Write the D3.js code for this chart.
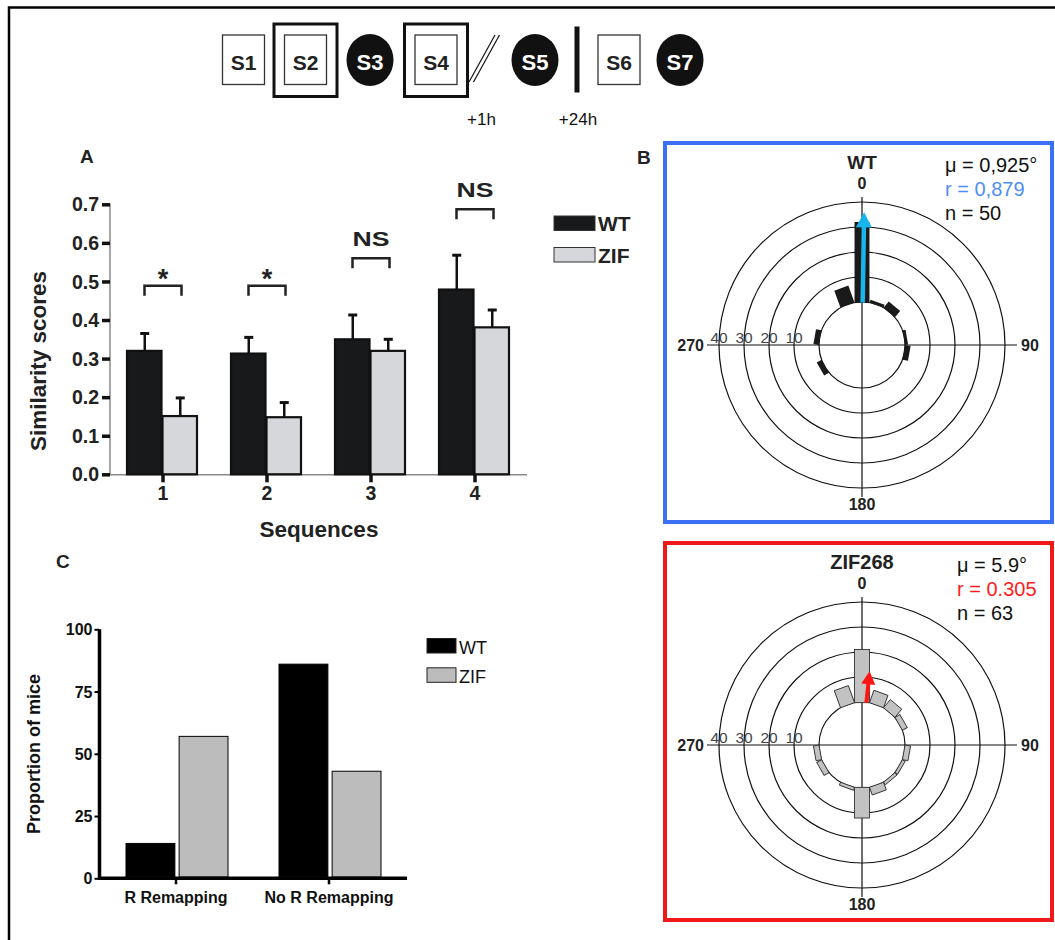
<!DOCTYPE html>
<html><head><meta charset="utf-8">
<script src="https://cdn.jsdelivr.net/npm/d3@7"></script>
<style>
body{margin:0;background:#fff}
svg{display:block}
text{font-family:"Liberation Sans",Arial,Helvetica,sans-serif}
</style>
</head><body>
<svg id="chart" width="1055" height="940"></svg>
<script>
// ---------------- data ----------------
const sessions = ["S1","S2","S3","S4","S5","S6","S7"];
const sessionKind = ["box","double","circle","double","circle","box","circle"];
const delayLabels = ["+1h","+24h"];

const seqCats = ["1","2","3","4"];
const simSeries = ["WT","ZIF"];
const simWT = [0.320, 0.313, 0.350, 0.479];
const simWTerr = [0.045, 0.042, 0.063, 0.089];
const simZIF = [0.151, 0.148, 0.320, 0.381];
const simZIFerr = [0.047, 0.038, 0.030, 0.045];
const sigLabels = ["*","*","NS","NS"];
const sigLevels = [0.489, 0.489, 0.560, 0.687];
const simTicks = [0,0.1,0.2,0.3,0.4,0.5,0.6,0.7];

const remapCats = ["R Remapping","No R Remapping"];
const propWT = [14, 86];
const propZIF = [57, 43];
const propTicks = [0,25,50,75,100];

const roseBins = [0,20,40,60,80,100,120,140,160,180,200,220,240,260,280,300,320,340];
const roseWT  = [32,1,3,0,1,2,0,0,0,0,0,0,2,0,2,0,0,7];
const roseZIF = [21,5,4,2,0,2,1,1,3,12,1,0,2,2,0,0,0,7];
const roseRings = [10,20,30,40];
const roseTitles = ["WT","ZIF268"];
const roseMu = [0.925, 5.9];
const roseR = [0.879, 0.305];
const roseN = [50, 63];
const roseMuLabels = ["0,925°","5.9°"];
const roseRLabels = ["0,879","0.305"];

// ---------------- drawing ----------------
const svg = d3.select("#chart");
const F = "Liberation Sans, Arial, sans-serif";

// outer frame (partially visible)
svg.append("path").attr("d","M9,940 L9,7.5 L1060,7.5").attr("fill","none").attr("stroke","#000").attr("stroke-width",2.5);

// ---- schematic ----
const sch = svg.append("g");
const sessionCx = [243.5, 305.5, 370, 436, 535, 619, 680];
const schCy = 60;
sessions.forEach((s,i)=>{
  const cx = sessionCx[i], k = sessionKind[i];
  if (k === "circle") {
    sch.append("ellipse").attr("cx",cx).attr("cy",schCy).attr("rx",23.5).attr("ry",26).attr("fill","#111");
    sch.append("text").attr("x",cx).attr("y",69.5).attr("text-anchor","middle").attr("fill","#fff")
      .attr("font-weight","bold").attr("font-size",22).text(s);
  } else {
    if (k === "double") {
      sch.append("rect").attr("x",cx-31.5).attr("y",24).attr("width",63).attr("height",72.5)
        .attr("fill","none").attr("stroke","#111").attr("stroke-width",3);
    }
    sch.append("rect").attr("x",cx-21).attr("y",35).attr("width",42).attr("height",49.5)
      .attr("fill","none").attr("stroke","#333").attr("stroke-width",1.3);
    sch.append("text").attr("x",cx).attr("y",69.5).attr("text-anchor","middle").attr("fill","#222")
      .attr("font-weight","bold").attr("font-size",21).text(s);
  }
});
// double slash
[[469,82,495,35],[473.5,82,499.5,35]].forEach(l=>{
  sch.append("line").attr("x1",l[0]).attr("y1",l[1]).attr("x2",l[2]).attr("y2",l[3]).attr("stroke","#111").attr("stroke-width",1.2);
});
// thick bar
sch.append("rect").attr("x",574.5).attr("y",26.5).attr("width",5).attr("height",66).attr("fill","#111");
sch.append("text").attr("x",481.5).attr("y",125).attr("text-anchor","middle").attr("font-size",17).attr("fill","#111").text(delayLabels[0]);
sch.append("text").attr("x",578).attr("y",125).attr("text-anchor","middle").attr("font-size",17).attr("fill","#111").text(delayLabels[1]);

// ---- Panel A ----
const gA = svg.append("g");
gA.append("text").attr("x",80).attr("y",163).attr("font-weight","bold").attr("font-size",19).attr("fill","#222").text("A");
const yA = d3.scaleLinear().domain([0,0.7]).range([474.3,204.3]);
const xA = d3.scaleBand().domain(seqCats).range([111,527]);
const xAin = d3.scaleBand().domain(simSeries).range([0,71]);
const fillA = {WT:"#18191b", ZIF:"#d5d7da"};

// axis lines
gA.append("line").attr("x1",110).attr("x2",110).attr("y1",yA(0.7)-1).attr("y2",yA(0)).attr("stroke","#8a8a8a").attr("stroke-width",1.5);
gA.append("line").attr("x1",110).attr("x2",527).attr("y1",yA(0)+0.5).attr("y2",yA(0)+0.5).attr("stroke","#8a8a8a").attr("stroke-width",1.5);
// y ticks
const yAxisA = d3.axisLeft(yA).tickValues(simTicks).tickFormat(d3.format(".1f")).tickSize(8).tickPadding(3);
const ya = gA.append("g").attr("transform","translate(110,0)").call(yAxisA);
ya.select(".domain").remove();
ya.selectAll(".tick line").attr("stroke","#111").attr("stroke-width",3.5);
ya.selectAll(".tick text").attr("font-family",F).attr("font-weight","bold").attr("font-size",19.5).attr("fill","#222").attr("dy","0.34em");
// x ticks
const xAxisA = d3.axisBottom(xA).tickSize(8).tickPadding(4);
const xa = gA.append("g").attr("transform",`translate(0,${yA(0)})`).call(xAxisA);
xa.select(".domain").remove();
xa.selectAll(".tick line").attr("stroke","#111").attr("stroke-width",3.5);
xa.selectAll(".tick text").attr("font-family",F).attr("font-weight","bold").attr("font-size",19.5).attr("fill","#222");

const barsA = [];
seqCats.forEach((c,i)=>{
  barsA.push({cat:c, s:"WT", v:simWT[i], e:simWTerr[i]});
  barsA.push({cat:c, s:"ZIF", v:simZIF[i], e:simZIFerr[i]});
});
const bx = d => xA(d.cat) + xA.bandwidth()/2 - 36 + xAin(d.s);
// error bars
gA.selectAll("line.err").data(barsA).join("line")
  .attr("x1",d=>bx(d)+xAin.bandwidth()/2).attr("x2",d=>bx(d)+xAin.bandwidth()/2)
  .attr("y1",d=>yA(d.v)).attr("y2",d=>yA(d.v+d.e)).attr("stroke","#111").attr("stroke-width",2.5);
gA.selectAll("line.cap").data(barsA).join("line")
  .attr("x1",d=>bx(d)+xAin.bandwidth()/2-4.5).attr("x2",d=>bx(d)+xAin.bandwidth()/2+4.5)
  .attr("y1",d=>yA(d.v+d.e)).attr("y2",d=>yA(d.v+d.e)).attr("stroke","#111").attr("stroke-width",3);
gA.selectAll("rect.bar").data(barsA).join("rect")
  .attr("x",bx).attr("width",xAin.bandwidth()-1)
  .attr("y",d=>yA(d.v)).attr("height",d=>yA(0)-yA(d.v))
  .attr("fill",d=>fillA[d.s]).attr("stroke","#111").attr("stroke-width",2.2);
// significance brackets
seqCats.forEach((c,i)=>{
  const cx = xA(c)+xA.bandwidth()/2;
  const y = yA(sigLevels[i]);
  gA.append("path").attr("d",`M${cx-18.5},${y+10} V${y} H${cx+18.5} V${y+10}`)
    .attr("fill","none").attr("stroke","#222").attr("stroke-width",2.5);
  if (sigLabels[i] === "*") {
    gA.append("text").attr("x",cx).attr("y",y+2).attr("text-anchor","middle").attr("font-weight","bold").attr("font-size",27).attr("fill","#222").text("*");
  } else {
    gA.append("text").attr("x",cx).attr("y",y-12).attr("text-anchor","middle").attr("font-weight","bold").attr("font-size",21)
      .attr("textLength",37).attr("lengthAdjust","spacingAndGlyphs").attr("fill","#222").text(sigLabels[i]);
  }
});
// titles
gA.append("text").attr("transform","translate(46,361) rotate(-90)").attr("text-anchor","middle")
  .attr("font-weight","bold").attr("font-size",22.5).attr("fill","#222").text("Similarity scores");
gA.append("text").attr("x",319).attr("y",537).attr("text-anchor","middle")
  .attr("font-weight","bold").attr("font-size",22.5).attr("fill","#222").text("Sequences");
// legend A
simSeries.forEach((s,i)=>{
  const y = 216 + i*31.5;
  gA.append("rect").attr("x",554).attr("y",y).attr("width",41).attr("height",14.5)
    .attr("fill",fillA[s]).attr("stroke","#333").attr("stroke-width",1);
  gA.append("text").attr("x",598).attr("y",y+15).attr("font-weight","bold").attr("font-size",21).attr("fill","#222").text(s);
});

// ---- Panel C ----
const gC = svg.append("g");
gC.append("text").attr("x",56).attr("y",568).attr("font-weight","bold").attr("font-size",19).attr("fill","#222").text("C");
const yC = d3.scaleLinear().domain([0,100]).range([878.3,629.3]);
const xC = d3.scaleBand().domain(remapCats).range([99.5,405.5]);
const fillC = {WT:"#000", ZIF:"#bcbcbc"};
const yAxisC = d3.axisLeft(yC).tickValues(propTicks).tickSize(5).tickPadding(2);
const yc = gC.append("g").attr("transform","translate(99.5,0)").call(yAxisC);
yc.select(".domain").attr("stroke","#000").attr("stroke-width",3.5).attr("d",`M0,${yC(100)}V${yC(0)+1.5}`);
yc.selectAll(".tick line").attr("stroke","#000").attr("stroke-width",2);
yc.selectAll(".tick text").attr("font-family",F).attr("font-weight","bold").attr("font-size",16).attr("fill","#111").attr("dy","0.34em");
const xAxisC = d3.axisBottom(xC).tickSize(6).tickPadding(7);
const xc = gC.append("g").attr("transform",`translate(0,${yC(0)})`).call(xAxisC);
xc.select(".domain").attr("stroke","#000").attr("stroke-width",3.5).attr("d","M98,0H407");
xc.selectAll(".tick line").attr("stroke","#000").attr("stroke-width",2.5);
xc.selectAll(".tick text").attr("font-family",F).attr("font-weight","bold").attr("font-size",16).attr("fill","#111");
const barsC = [];
remapCats.forEach((c,i)=>{
  barsC.push({cat:c, s:"WT", v:propWT[i]});
  barsC.push({cat:c, s:"ZIF", v:propZIF[i]});
});
const xCin = d3.scaleBand().domain(simSeries).range([-50,52]).paddingInner(0.08);
gC.selectAll("rect.bar").data(barsC).join("rect")
  .attr("x",d=>xC(d.cat)+xC.bandwidth()/2+xCin(d.s)).attr("width",xCin.bandwidth())
  .attr("y",d=>yC(d.v)).attr("height",d=>yC(0)-yC(d.v)-1.5)
  .attr("fill",d=>fillC[d.s]).attr("stroke","#000").attr("stroke-width",1);
gC.append("text").attr("transform","translate(40,754) rotate(-90)").attr("text-anchor","middle")
  .attr("font-weight","bold").attr("font-size",18).attr("fill","#111").text("Proportion of mice");
simSeries.forEach((s,i)=>{
  const y = 638.5 + i*29.3;
  gC.append("rect").attr("x",427).attr("y",y).attr("width",29).attr("height",14.5)
    .attr("fill",fillC[s]).attr("stroke","#222").attr("stroke-width",1);
  gC.append("text").attr("x",459).attr("y",y+15).attr("font-size",18).attr("fill","#111").text(s);
});

// ---- Panel B (rose diagrams) ----
svg.append("text").attr("x",637).attr("y",164).attr("font-weight","bold").attr("font-size",19).attr("fill","#222").text("B");
svg.append("rect").attr("x",665).attr("y",143).attr("width",387).attr("height",379)
  .attr("fill","none").attr("stroke","#3b6ff5").attr("stroke-width",4);
svg.append("rect").attr("x",665).attr("y",543).attr("width",387).attr("height",377)
  .attr("fill","none").attr("stroke","#f01818").attr("stroke-width",4);

const rScale = d3.scaleLinear().domain([0,40]).range([43,143]);
const vecScale = d3.scaleLinear().domain([0,1]).range([43,145]);
const r0 = rScale(0);
const halfBin = 10 * Math.PI/180;
const barW = 2 * r0 * Math.sin(halfBin);

function drawRose(idx, cx, cy, counts, barFill, barStroke, rColor, arrowColor, shaftW, headW, headL) {
  const g = svg.append("g");
  // rings
  g.selectAll("circle.ring").data([0].concat(roseRings)).join("circle")
    .attr("cx",cx).attr("cy",cy).attr("r",d=>rScale(d)).attr("fill","none").attr("stroke","#111").attr("stroke-width",1.2);
  // axes
  g.append("line").attr("x1",cx).attr("x2",cx).attr("y1",cy-148).attr("y2",cy+152).attr("stroke","#111").attr("stroke-width",1.2);
  g.append("line").attr("x1",cx-155).attr("x2",cx+155).attr("y1",cy).attr("y2",cy).attr("stroke","#111").attr("stroke-width",1.2);
  // bars
  const data = roseBins.map((a,i)=>({a, c:counts[i]})).filter(d=>d.c>0);
  g.selectAll("rect.rb").data(data).join("rect")
    .attr("transform",d=>`translate(${cx},${cy}) rotate(${d.a})`)
    .attr("x",-barW/2).attr("width",barW)
    .attr("y",d=>-rScale(d.c)).attr("height",d=>rScale(d.c) - r0*Math.cos(halfBin))
    .attr("fill",barFill).attr("stroke",barStroke).attr("stroke-width",barStroke==="none"?0:0.9);
  // mean vector arrow
  const tip = vecScale(roseR[idx]);
  const ag = g.append("g").attr("transform",`translate(${cx},${cy}) rotate(${roseMu[idx]})`);
  ag.append("rect").attr("x",-shaftW/2).attr("width",shaftW).attr("y",-(tip-headL+1)).attr("height",tip-headL+1-r0+0.5).attr("fill",arrowColor);
  ag.append("path").attr("d",`M0,${-tip} L${headW/2},${-(tip-headL)} L${-headW/2},${-(tip-headL)} Z`).attr("fill",arrowColor);
  // direction labels
  const lab = (x,y,t,anchor)=>g.append("text").attr("x",x).attr("y",y).attr("text-anchor",anchor)
    .attr("font-weight","bold").attr("font-size",16).attr("fill","#222").text(t);
  lab(cx, cy-156, "0", "middle");
  lab(cx, cy+165, "180", "middle");
  lab(cx-158, cy+6, "270", "end");
  lab(cx+159, cy+6, "90", "start");
  // ring labels
  g.selectAll("text.rl").data(roseRings).join("text")
    .attr("x",d=>cx-rScale(d)).attr("y",cy-2).attr("text-anchor","middle")
    .attr("font-size",15.5).attr("fill","#444").text(d=>d);
  // title
  g.append("text").attr("x",cx).attr("y",cy-176).attr("text-anchor","middle").attr("font-weight","bold")
    .attr("font-size",idx===0?19:20).attr("fill","#222").text(roseTitles[idx]);
  // stats
  const sx = idx===0 ? 945 : 957;
  const st = [["μ = " + roseMuLabels[idx], "#111"], ["r = " + roseRLabels[idx], rColor], ["n = " + roseN[idx], "#111"]];
  st.forEach((s,k)=>{
    g.append("text").attr("x",sx).attr("y",cy-173+k*24).attr("font-size",20).attr("fill",s[1]).text(s[0]);
  });
}
drawRose(0, 862, 345, roseWT, "#1a1a1a", "none", "#4f8ef7", "#18b4ec", 4.5, 16, 15);
drawRose(1, 862, 745, roseZIF, "#c2c2c2", "#333", "#ff1c1c", "#ff1414", 4, 14, 13);
</script>
</body></html>
